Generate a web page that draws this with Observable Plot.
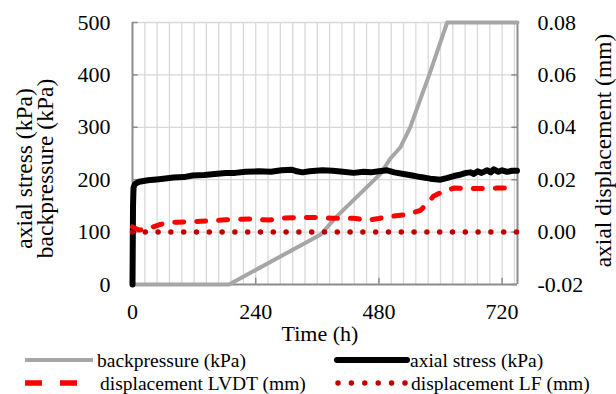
<!DOCTYPE html>
<html><head><meta charset="utf-8">
<script src="https://cdn.jsdelivr.net/npm/d3@7"></script>
<script src="https://cdn.jsdelivr.net/npm/@observablehq/plot@0.6"></script>
<style>
body{margin:0;background:#fff;font-family:"Liberation Serif",serif;}
#wrap{width:616px;height:394px;background:#fff;overflow:hidden;font-family:"Liberation Serif",serif;}
#wrap svg{display:block;}
</style></head><body><div id="wrap"></div>
<script>
// ---- data ----
const timeTicks = [0, 240, 480, 720];
const stressTicks = [0, 100, 200, 300, 400, 500];
const dispTicks = [-0.02, 0.00, 0.02, 0.04, 0.06, 0.08];
const gridHours = d3.range(24, 750, 24);

const bpTime  = [0, 188, 366, 400, 440, 483, 502, 522, 541, 578, 613, 750];
const bpValue = [0, 0, 95, 132, 170, 211, 240, 262, 300, 400, 500, 500];

const stTime  = [0, 1, 2, 5, 13, 30, 52, 80, 100, 117, 140, 160, 182, 200, 220, 246, 270, 290, 311, 320, 331, 345, 370, 390, 410, 431, 450, 464, 480, 496, 510, 528, 545, 561, 580, 600, 612, 626, 640, 650, 658, 665, 672, 680, 691, 698, 704, 712, 720, 730, 740, 749];
const stValue = [0, 150, 185, 192, 196, 199, 201, 204, 205, 208, 209, 211, 213, 213, 215, 216, 215, 218, 219, 216, 214, 216, 218, 217, 215, 213, 215, 214, 216, 218, 214, 211, 208, 205, 202, 200, 203, 207, 210, 213, 214, 211, 216, 213, 218, 214, 220, 215, 218, 215, 217, 217];

const lvdtTime  = [0, 5, 13, 25, 40, 52, 70, 90, 117, 150, 182, 210, 227, 250, 266, 291, 323, 355, 389, 431, 457, 480, 496, 535, 561, 575, 587, 605, 626, 650, 678, 710, 748];
const lvdtValue = [0.002, 0.0015, 0.0008, 0.001, 0.002, 0.0028, 0.0037, 0.0038, 0.004, 0.0043, 0.0047, 0.0049, 0.005, 0.0048, 0.0046, 0.0053, 0.0056, 0.0056, 0.0053, 0.0053, 0.0045, 0.0052, 0.0058, 0.0067, 0.0083, 0.0112, 0.0138, 0.0155, 0.0168, 0.0166, 0.0166, 0.0168, 0.0168];

const lfTime  = [0, 750];
const lfValue = [0, 0];

const legendLabels = ["backpressure (kPa)", "axial stress (kPa)", "displacement LVDT (mm)", "displacement LF (mm)"];

// secondary axis mapping: displacement (mm) -> left scale (kPa)
const toKpa = d => (d + 0.02) * 5000;
const fromKpa = k => (k / 5000 - 0.02);

const bp = bpTime.map((t, i) => ({t, v: bpValue[i]}));
const st = stTime.map((t, i) => ({t, v: stValue[i]}));
const lvdt = lvdtTime.map((t, i) => ({t, v: toKpa(lvdtValue[i])}));
const lf = lfTime.map((t, i) => ({t, v: toKpa(lfValue[i])}));

const axisColor = "#8c8c8c";
const gridColor = "#d9d9d9";
const F = "Liberation Serif";

const chart = Plot.plot({
  width: 616, height: 348,
  marginLeft: 132, marginRight: 99, marginTop: 22, marginBottom: 64,
  x: {domain: [0, 750]},
  y: {domain: [0, 500]},
  style: {background: "#fff", overflow: "visible"},
  marks: [
    Plot.ruleX(gridHours, {stroke: gridColor, strokeWidth: 1.3}),
    Plot.ruleY(stressTicks.slice(1), {stroke: gridColor, strokeWidth: 1.3}),
    Plot.ruleX([0, 750], {stroke: axisColor, strokeWidth: 2}),
    Plot.ruleY([0], {stroke: axisColor, strokeWidth: 2}),
    Plot.ruleY(stressTicks, {y: d => d, x1: 0, x2: 11, stroke: axisColor, strokeWidth: 1.5}),
    Plot.ruleY(dispTicks, {y: d => toKpa(d), x1: 739, x2: 750, stroke: axisColor, strokeWidth: 1.5}),
    Plot.ruleX(timeTicks.slice(1), {x: d => d, y1: 0, y2: 12, stroke: axisColor, strokeWidth: 1.5}),
    Plot.axisX(timeTicks, {tickSize: 0, tickPadding: 19, label: null, fontFamily: F, fontSize: 22, fill: "#000"}),
    Plot.axisY(stressTicks, {tickSize: 0, tickPadding: 22, label: null, fontFamily: F, fontSize: 22, fill: "#000"}),
    Plot.axisY(dispTicks.map(toKpa), {anchor: "right", tickSize: 0, tickPadding: 20, label: null, fontFamily: F, fontSize: 22, fill: "#000", tickFormat: k => fromKpa(k).toFixed(2)}),
    Plot.line(bp, {x: "t", y: "v", stroke: "#a6a6a6", strokeWidth: 4, strokeLinejoin: "round"}),
    Plot.line(st, {x: "t", y: "v", stroke: "#000", strokeWidth: 6, strokeLinejoin: "round", strokeLinecap: "round"}),
    Plot.line(lvdt, {x: "t", y: "v", stroke: "#ff0000", strokeWidth: 5, strokeDasharray: "9 13", strokeLinecap: "round", strokeLinejoin: "round"}),
    Plot.line(lf, {x: "t", y: "v", stroke: "#c00000", strokeWidth: 5.5, strokeDasharray: "0 12.8", strokeLinecap: "round"}),
    Plot.text(["axial stress (kPa)\nbackpressure (kPa)"], {frameAnchor: "left", rotate: -90, dx: -97, dy: 15, fontSize: 23.5, fontFamily: F, lineHeight: 0.9, textAnchor: "middle", fill: "#000"}),
    Plot.text(["axial displacement (mm)"], {frameAnchor: "right", rotate: -90, dx: 86, dy: -3, fontSize: 23.5, fontFamily: F, textAnchor: "middle", fill: "#000"}),
    Plot.text(["Time (h)"], {frameAnchor: "bottom", dx: -5, dy: 49, fontSize: 22, fontFamily: F, lineAnchor: "middle", fill: "#000"})
  ]
});
const wrap = document.getElementById("wrap");
wrap.appendChild(chart);

// ---- legend (separate svg below the chart) ----
const legendStyles = [
  {x: 25, x2: 93, tx: 97, y: 12, stroke: "#a6a6a6", w: 4, dash: null, cap: "butt"},
  {x: 337, x2: 407, tx: 410, y: 12, stroke: "#000", w: 6, dash: null, cap: "round"},
  {x: 25, x2: 78, tx: 100, y: 35, stroke: "#ff0000", w: 5.5, dash: "17 18", cap: "butt"},
  {x: 338, x2: 405, tx: 411, y: 35, stroke: "#c00000", w: 5.5, dash: "0 13.4", cap: "round"}
];
const ns = "http://www.w3.org/2000/svg";
const lsvg = document.createElementNS(ns, "svg");
lsvg.setAttribute("width", 616); lsvg.setAttribute("height", 46);
lsvg.setAttribute("viewBox", "0 0 616 46");
legendStyles.forEach((it, i) => {
  const l = document.createElementNS(ns, "line");
  l.setAttribute("x1", it.x); l.setAttribute("x2", it.x2);
  l.setAttribute("y1", it.y); l.setAttribute("y2", it.y);
  l.setAttribute("stroke", it.stroke); l.setAttribute("stroke-width", it.w);
  l.setAttribute("stroke-linecap", it.cap);
  if (it.dash) l.setAttribute("stroke-dasharray", it.dash);
  lsvg.appendChild(l);
  const t = document.createElementNS(ns, "text");
  t.setAttribute("x", it.tx); t.setAttribute("y", it.y);
  t.setAttribute("dy", "0.34em");
  t.setAttribute("font-size", "19.5");
  t.setAttribute("font-family", F);
  t.setAttribute("fill", "#000");
  t.textContent = legendLabels[i];
  lsvg.appendChild(t);
});
wrap.appendChild(lsvg);

// force synchronous layout / font resolution of every text before the photo
document.querySelectorAll("svg text").forEach(t => {
  getComputedStyle(t).fontFamily;
  t.getBoundingClientRect();
});
</script></body></html>
